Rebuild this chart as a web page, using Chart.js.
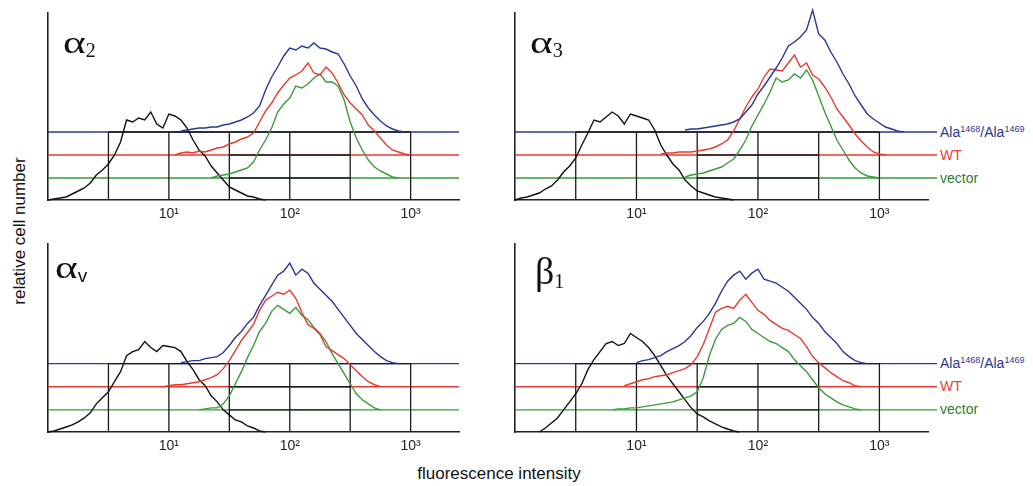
<!DOCTYPE html>
<html>
<head>
<meta charset="utf-8">
<script src="https://cdn.jsdelivr.net/npm/chart.js@4.4.1/dist/chart.umd.min.js"></script>
<style>
  body { margin:0; background:#fff; width:1033px; height:486px; position:relative; overflow:hidden;
         font-family:"Liberation Sans", Arial, sans-serif; }
  canvas { position:absolute; }
  .tag { position:absolute; font-family:"Liberation Serif","Times New Roman",serif; font-size:32px; line-height:32px; color:#111; }
  .tag .g { display:inline-block; transform:scaleX(1.35); transform-origin:left; margin-right:6px; }
  .tag sub { font-size:20px; vertical-align:-4px; }
  .tag .v { font-family:"Liberation Sans", Arial, sans-serif; font-size:19px; }
  .tag .b { font-size:38px; }
  .lbl { position:absolute; left:940px; font-size:14px; line-height:14px; white-space:nowrap; }
  .lbl sup { font-size:9px; vertical-align:5px; line-height:0; }
  .blue { color:#2b3590; } .red { color:#e8412f; } .green { color:#2f7d32; }
  #ytitle { position:absolute; left:20px; top:231px; font-size:17px; white-space:nowrap;
            transform:translate(-50%,-50%) rotate(-90deg); color:#111; }
  #xtitle { position:absolute; left:499px; top:474px; font-size:17px; white-space:nowrap;
            transform:translate(-50%,-50%); color:#111; }
</style>
</head>
<body>
<canvas id="a2" width="432" height="227" style="left:38px;top:3px"></canvas>
<canvas id="a3" width="433" height="227" style="left:505px;top:3px"></canvas>
<canvas id="av" width="432" height="228" style="left:38px;top:234px"></canvas>
<canvas id="b1" width="433" height="228" style="left:505px;top:234px"></canvas>

<div class="tag" style="left:63px;top:26px"><span class="g">&alpha;</span><sub>2</sub></div>
<div class="tag" style="left:530px;top:26px"><span class="g">&alpha;</span><sub>3</sub></div>
<div class="tag" style="left:55px;top:251px"><span class="g">&alpha;</span><sub class="v">v</sub></div>
<div class="tag" style="left:535px;top:255px"><span class="b">&beta;</span><sub>1</sub></div>

<div class="lbl blue" style="top:125px">Ala<sup>1468</sup>/Ala<sup>1469</sup></div>
<div class="lbl red" style="top:148px">WT</div>
<div class="lbl green" style="top:171px">vector</div>
<div class="lbl blue" style="top:356px">Ala<sup>1468</sup>/Ala<sup>1469</sup></div>
<div class="lbl red" style="top:379px">WT</div>
<div class="lbl green" style="top:402px">vector</div>

<div id="ytitle">relative cell number</div>
<div id="xtitle">fluorescence intensity</div>

<script>
// channels are 0.05 decade wide, starting at 10^0
const binStep = 0.05;
const xMax = Math.pow(10, 3.4);
const yMax = 187;
const tickValues = [10, 100, 1000];
const tickLabels = ['10\u00b9', '10\u00b2', '10\u00b3'];
const gridDecades = [0.5, 1, 1.5, 2, 2.5, 3];
// baseline offset of each histogram (black, green, red, blue)
const offsets = [0, 22, 45, 68];
const colors = ['#111111', '#3a9a3c', '#e63b2e', '#2a3794'];

// alpha 2
const a2Black = [0,1,2,3,6,9,12,17,25,30,36,45,58,80,78,82,80,88,76,72,86,84,80,72,60,50,44,34,27,20,13,10,7,4,3,1,0];
const a2Green = [0,2,3,4,6,8,10,16,28,38,50,66,74,80,92,90,94,100,104,96,96,92,78,56,40,28,18,11,7,4,1,0];
const a2Red = [0,2,3,2,4,3,5,7,8,11,13,16,18,22,33,44,52,62,70,77,80,84,92,82,80,88,82,72,60,52,46,40,30,24,17,10,5,3,1,0];
const a2Blue = [1,2,3,4,4,5,5,7,8,10,12,15,19,26,42,55,65,76,84,82,86,84,89,84,83,80,78,68,56,46,33,24,17,11,6,3,1,0];
const a2From = [0, 27, 21, 22];

// alpha 3
const a3Black = [0,2,3,5,7,11,14,20,28,34,42,55,67,80,78,83,88,84,76,86,84,82,80,70,55,45,36,30,20,14,9,7,5,3,2,1,0];
const a3Green = [1,3,4,5,7,9,11,15,19,28,38,52,63,74,86,100,96,98,104,100,108,98,82,66,52,38,28,18,10,5,2,1,0];
const a3Red = [1,2,2,3,3,3,4,5,6,8,11,15,24,36,48,58,66,78,86,85,84,92,100,88,92,80,76,68,58,46,38,30,21,14,8,3,1,0];
const a3Blue = [2,3,3,4,5,6,7,8,10,13,20,27,38,46,55,64,74,86,90,95,102,122,98,92,80,70,58,48,36,27,18,13,9,5,3,1,0];
const a3From = [0, 28, 24, 28];

// alpha v
const avBlack = [0,1,3,5,7,10,14,19,28,34,40,50,60,76,80,82,90,84,80,86,85,84,80,70,62,52,46,36,30,22,17,12,10,6,4,1,0];
const avGreen = [0,1,2,2,6,14,26,38,52,64,78,86,98,104,100,96,102,94,90,82,76,68,56,46,36,26,16,10,6,2,0];
const avRed = [0,1,2,2,3,4,5,7,9,12,18,26,36,46,54,62,76,86,90,94,92,96,88,74,62,58,52,40,36,32,28,22,16,10,5,2,0];
const avBlue = [1,2,3,3,5,6,7,11,18,26,32,40,46,58,68,78,88,92,100,88,94,90,80,74,68,62,54,46,38,30,24,18,12,7,3,1,0];
const avFrom = [0, 25, 19, 22];

// beta 1
const b1Black = [0,4,9,14,22,30,38,48,62,72,80,88,90,86,88,98,94,90,84,76,66,56,48,40,32,24,18,15,11,8,5,3,1,0];
const b1Green = [0,1,1,2,2,3,4,5,6,7,8,10,12,14,18,32,54,70,80,84,86,92,88,80,76,72,68,66,62,58,50,44,38,30,22,16,12,8,5,3,1,0];
const b1Red = [1,3,5,7,8,10,11,12,14,16,18,22,30,42,58,74,78,80,78,86,92,84,76,72,66,62,58,56,52,48,40,30,24,19,14,10,6,4,1,0];
const b1Blue = [1,3,4,6,8,12,15,18,22,28,36,42,50,60,72,82,88,92,84,90,94,84,82,80,76,72,66,60,54,46,40,32,26,20,12,7,3,1,0];
const b1From = [4, 16, 18, 20];

function toPoints(heights, from, offset) {
    return heights.map((h, i) => ({ x: Math.pow(10, (from + i) * binStep), y: h + offset }));
}

const flowGrid = {
    id: 'flowGrid',
    beforeDatasetsDraw(chart, args, opts) {
        const { ctx, chartArea: a, scales: { x, y } } = chart;
        ctx.save();
        ctx.lineWidth = 1.3;
        // coloured baselines, full width
        for (let i = 1; i < 4; i++) {
            const py = y.getPixelForValue(offsets[i]);
            ctx.strokeStyle = colors[i];
            ctx.beginPath();
            ctx.moveTo(a.left, py);
            ctx.lineTo(a.right + opts.ext, py);
            ctx.stroke();
        }
        // black grid
        ctx.strokeStyle = '#1a1a1a';
        const yBase = y.getPixelForValue(0);
        const yTop = y.getPixelForValue(offsets[3]);
        ctx.beginPath();
        gridDecades.forEach(d => {
            const px = x.getPixelForValue(Math.pow(10, d));
            ctx.moveTo(px, yBase);
            ctx.lineTo(px, yTop);
        });
        ctx.moveTo(x.getPixelForValue(Math.pow(10, 0.5)), yTop);
        ctx.lineTo(x.getPixelForValue(1000), yTop);
        [offsets[1], offsets[2]].forEach(o => {
            const py = y.getPixelForValue(o);
            ctx.moveTo(x.getPixelForValue(Math.pow(10, 1.5)), py);
            ctx.lineTo(x.getPixelForValue(Math.pow(10, 2.5)), py);
        });
        ctx.stroke();
        ctx.restore();
    }
};

function makePanel(id, curves, from, ext) {
    const order = [3, 2, 1, 0];
    const datasets = order.map(i => ({
        data: toPoints(curves[i], from[i], offsets[i]),
        borderColor: colors[i],
        borderWidth: 1.4,
        pointRadius: 0,
        tension: 0,
        fill: false,
        clip: false
    }));
    new Chart(document.getElementById(id), {
        type: 'line',
        data: { datasets: datasets },
        options: {
            responsive: false,
            animation: false,
            layout: { padding: { left: 10, top: 10, right: ext ? 10 : 11, bottom: 0 } },
            plugins: {
                legend: { display: false },
                tooltip: { enabled: false },
                flowGrid: { ext: ext }
            },
            scales: {
                x: {
                    type: 'logarithmic',
                    min: 1,
                    max: xMax,
                    grid: { display: false, drawTicks: false },
                    border: { color: '#222', width: 1.6 },
                    afterBuildTicks: s => { s.ticks = tickValues.map(v => ({ value: v })); },
                    afterFit: s => { s.height = 30; },
                    ticks: {
                        color: '#222',
                        padding: 6,
                        autoSkip: false,
                        maxRotation: 0,
                        font: { size: 14, family: '"Liberation Sans", Arial, sans-serif' },
                        callback: (v, i) => tickLabels[i]
                    }
                },
                y: {
                    min: 0,
                    max: yMax,
                    grid: { display: false, drawTicks: false },
                    border: { color: '#222', width: 1.6 },
                    ticks: { display: false },
                    afterFit: s => { s.width = 0; }
                }
            }
        },
        plugins: [flowGrid]
    });
}

makePanel('a2', [a2Black, a2Green, a2Red, a2Blue], a2From, 0);
makePanel('a3', [a3Black, a3Green, a3Red, a3Blue], a3From, 9);
makePanel('av', [avBlack, avGreen, avRed, avBlue], avFrom, 0);
makePanel('b1', [b1Black, b1Green, b1Red, b1Blue], b1From, 9);
</script>
</body>
</html>
